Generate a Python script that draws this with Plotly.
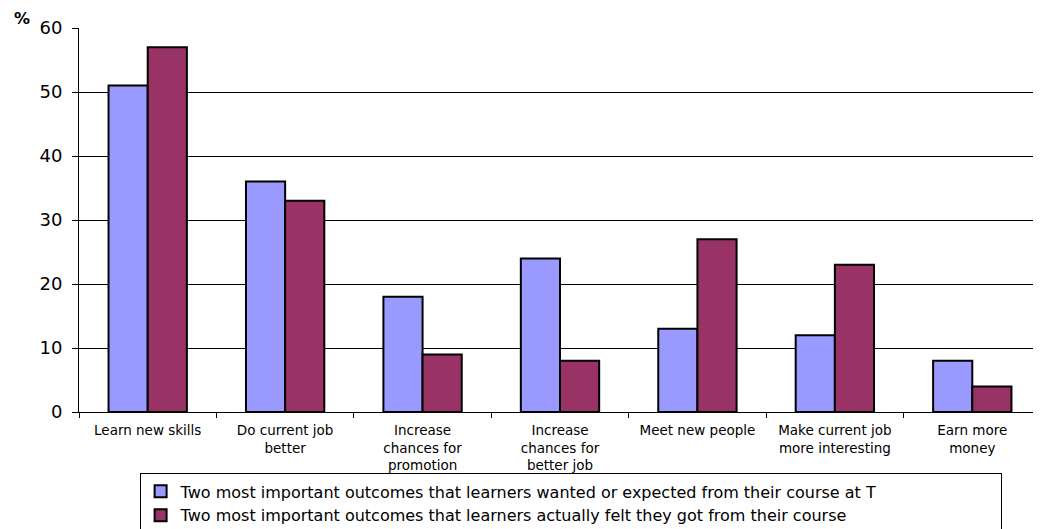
import plotly.graph_objects as go

# ---------------------------------------------------------------------------
# Data
# ---------------------------------------------------------------------------
categories = [
    'Learn new skills',
    'Do current job<br>better',
    'Increase<br>chances for<br>promotion',
    'Increase<br>chances for<br>better job',
    'Meet new people',
    'Make current job<br>more interesting',
    'Earn more<br>money',
]
wanted = [51, 36, 18, 24, 13, 12, 8]
got = [57, 33, 9, 8, 27, 23, 4]

name_wanted = 'Two most important outcomes that learners wanted or expected from their course at T'
name_got = 'Two most important outcomes that learners actually felt they got from their course'

y_ticks = [0, 10, 20, 30, 40, 50, 60]

# ---------------------------------------------------------------------------
# Figure
# ---------------------------------------------------------------------------
fig = go.Figure()
fig.add_trace(go.Bar(
    x=categories, y=wanted, name=name_wanted,
    marker=dict(color='#9999FF', line=dict(color='black', width=2)),
))
fig.add_trace(go.Bar(
    x=categories, y=got, name=name_got,
    marker=dict(color='#993366', line=dict(color='black', width=2)),
))

# "%" unit label above the y axis
fig.add_annotation(
    text='<b>%</b>', xref='paper', yref='paper',
    x=-0.059, y=1.026, xanchor='center', yanchor='middle',
    showarrow=False, font=dict(size=16, color='black'),
)

# the page body has an 8px margin, so the figure is sized to end at the window edge
fig.update_layout(
    width=1033, height=521,
    paper_bgcolor='white', plot_bgcolor='white',
    font=dict(family='DejaVu Sans, sans-serif', color='black'),
    barmode='group', bargap=0.43, bargroupgap=0,
    margin=dict(l=71, r=0, t=20, b=117, autoexpand=False),
    xaxis=dict(
        showline=True, linecolor='black', linewidth=1,
        ticks='outside', tickson='boundaries', ticklen=5, tickcolor='black',
        tickfont=dict(size=13.5), tickangle=0, ticklabelstandoff=6,
    ),
    yaxis=dict(
        range=[0, 60], tickvals=y_ticks,
        showline=True, linecolor='black', linewidth=1,
        ticks='outside', ticklen=6, tickcolor='black',
        showgrid=True, gridcolor='black', gridwidth=1,
        tickfont=dict(size=18), zeroline=False, ticklabelstandoff=6,
    ),
    legend=dict(
        orientation='h', entrywidth=815, entrywidthmode='pixels',
        x=0.063, y=-0.16, xanchor='left', yanchor='top',
        bordercolor='black', borderwidth=1,
        font=dict(size=16),
        tracegroupgap=0, itemwidth=30,
    ),
    showlegend=True,
)

fig.write_html('out.html')
